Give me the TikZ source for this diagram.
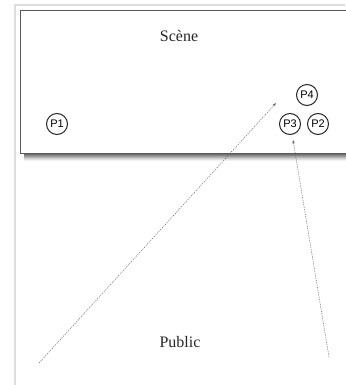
\documentclass[tikz,border=0pt]{standalone}
\usepackage{fontspec}
\setmainfont{Liberation Serif}
\newfontfamily\plabel{Liberation Sans}
\usetikzlibrary{arrows.meta}
\begin{document}
\begin{tikzpicture}[x=1pt,y=-1pt,
  pers/.style={circle,draw=black!85,line width=1pt,inner sep=0pt,minimum size=21pt,font=\plabel\fontsize{11}{13}\selectfont},
  title/.style={font=\fontsize{16}{18}\selectfont,text=black!85},
  sight/.style={draw=black!60,line width=0.5pt,dash pattern=on 1.2pt off 1.2pt,-{Stealth[length=3.5pt,width=2.5pt]}}]
\useasboundingbox (0,0) rectangle (345,385);
% outer frame
\draw[black!13,line width=1.5pt] (15,385) -- (15,5) -- (345,5);
% shadow
\foreach \i/\o in {8/0.05,7/0.07,6/0.09,5/0.11,4/0.13,3/0.15,2/0.17,1/0.2}{
  \fill[black,opacity=\o] (24,150) rectangle (347,153+\i);
}
% stage
\draw[fill=white,draw=black!65,line width=0.8pt] (20,10) rectangle (350,153);
\node[title] (scene) at (179,36) {Scène};
\node[title] (public) at (180,342) {Public};
\node[pers] (p1) at (57,124) {P1};
\node[pers] (p4) at (307,95) {P4};
\node[pers] (p3) at (290,124) {P3};
\node[pers] (p2) at (318,124) {P2};
\coordinate (a1) at (39,363);
\coordinate (b1) at (276,103);
\coordinate (a2) at (329,357);
\coordinate (b2) at (293,140);
\draw[sight] (a1) -- (b1);
\draw[sight] (a2) -- (b2);
\end{tikzpicture}
\end{document}
